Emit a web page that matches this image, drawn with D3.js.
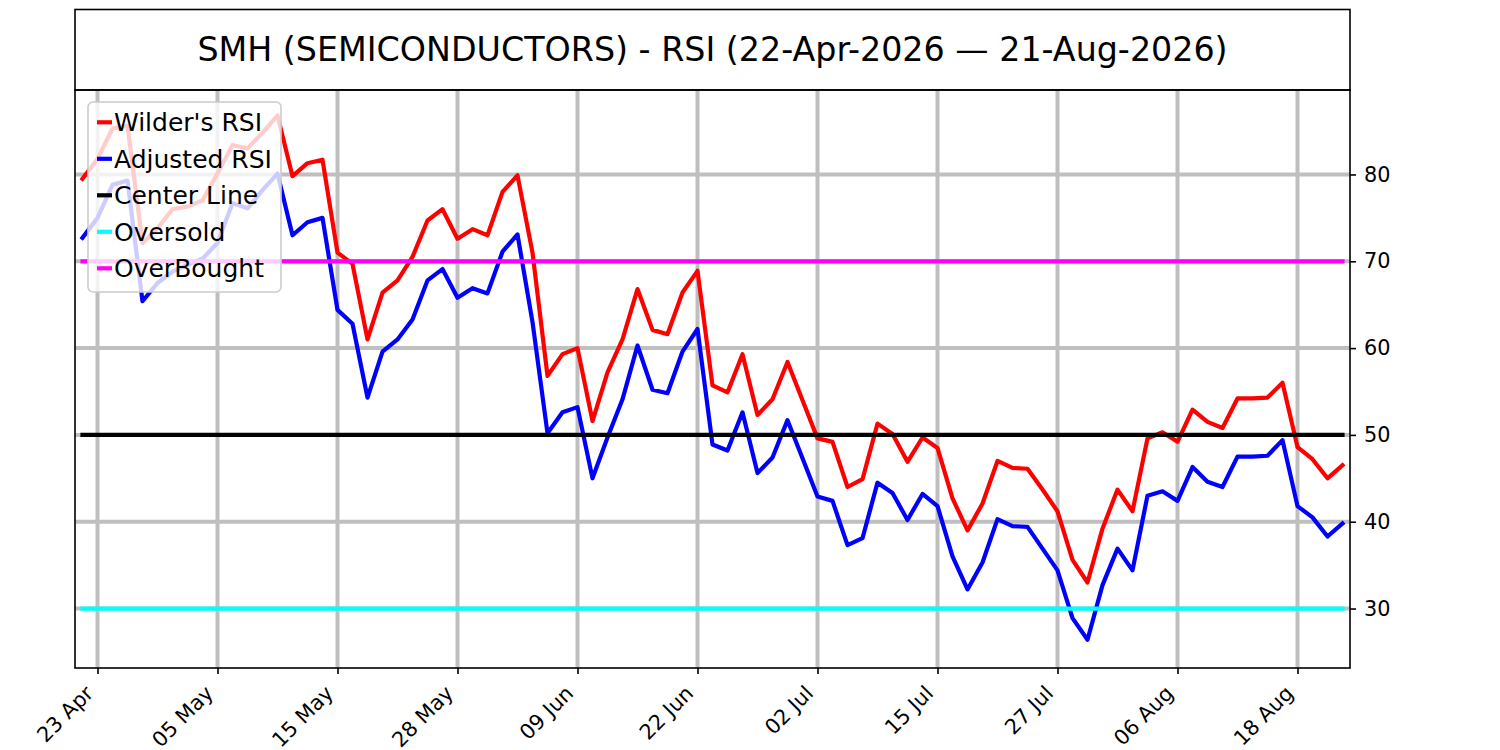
<!DOCTYPE html>
<html>
<head>
<meta charset="utf-8">
<script src="https://cdn.jsdelivr.net/npm/d3@7"></script>
<style>
  body { margin: 0; background: #fff; }
  text { font-family: "DejaVu Sans", sans-serif; }
</style>
</head>
<body>
<div id="chart"></div>
<script>
// trading days shown on the x axis
const dates = [
  "2026-04-22","2026-04-23","2026-04-24","2026-04-27","2026-04-28","2026-04-29","2026-04-30",
  "2026-05-01","2026-05-04","2026-05-05","2026-05-06","2026-05-07","2026-05-08",
  "2026-05-11","2026-05-12","2026-05-13","2026-05-14","2026-05-15",
  "2026-05-18","2026-05-19","2026-05-20","2026-05-21","2026-05-22",
  "2026-05-26","2026-05-27","2026-05-28","2026-05-29",
  "2026-06-01","2026-06-02","2026-06-03","2026-06-04","2026-06-05",
  "2026-06-08","2026-06-09","2026-06-10","2026-06-11","2026-06-12",
  "2026-06-15","2026-06-16","2026-06-17","2026-06-18",
  "2026-06-22","2026-06-23","2026-06-24","2026-06-25","2026-06-26",
  "2026-06-29","2026-06-30","2026-07-01","2026-07-02",
  "2026-07-06","2026-07-07","2026-07-08","2026-07-09","2026-07-10",
  "2026-07-13","2026-07-14","2026-07-15","2026-07-16","2026-07-17",
  "2026-07-20","2026-07-21","2026-07-22","2026-07-23","2026-07-24",
  "2026-07-27","2026-07-28","2026-07-29","2026-07-30","2026-07-31",
  "2026-08-03","2026-08-04","2026-08-05","2026-08-06","2026-08-07",
  "2026-08-10","2026-08-11","2026-08-12","2026-08-13","2026-08-14",
  "2026-08-17","2026-08-18","2026-08-19","2026-08-20","2026-08-21"
];

const wilderRSI = [
  79.5, 81.8, 85.3, 85.6, 72.1, 73.8, 76.0, 76.3, 77.0, 80.1,
  83.4, 83.0, 84.8, 86.8, 79.8, 81.3, 81.7, 71.0, 69.7, 61.0,
  66.4, 67.8, 70.5, 74.7, 76.0, 72.6, 73.7, 73.0, 78.0, 79.9,
  71.0, 56.8, 59.3, 60.0, 51.6, 57.2, 61.0, 66.8, 62.1, 61.6,
  66.4, 68.9, 55.7, 54.9, 59.3, 52.3, 54.1, 58.4, 54.0, 49.6,
  49.2, 44.0, 44.9, 51.3, 50.1, 46.9, 49.7, 48.5, 42.7, 39.0,
  42.1, 47.0, 46.2, 46.1, 43.7, 41.2, 35.6, 33.0, 39.2, 43.7,
  41.2, 49.6, 50.3, 49.2, 52.9, 51.5, 50.8, 54.2, 54.2, 54.3,
  56.0, 48.6, 47.2, 45.0, 46.5
];

const adjustedRSI = [
  72.7, 75.0, 78.8, 79.3, 65.4, 67.5, 68.8, 69.6, 70.3, 72.1,
  76.7, 76.1, 78.2, 80.1, 73.0, 74.5, 75.0, 64.4, 62.8, 54.3,
  59.6, 61.0, 63.3, 67.8, 69.1, 65.8, 66.9, 66.3, 71.1, 73.1,
  63.0, 50.2, 52.6, 53.2, 45.0, 49.7, 54.1, 60.3, 55.2, 54.8,
  59.6, 62.2, 48.9, 48.2, 52.6, 45.6, 47.4, 51.7, 47.3, 42.9,
  42.4, 37.3, 38.1, 44.5, 43.3, 40.2, 43.2, 41.8, 36.0, 32.2,
  35.3, 40.3, 39.5, 39.4, 36.9, 34.4, 28.9, 26.4, 32.7, 36.9,
  34.4, 43.0, 43.5, 42.4, 46.3, 44.6, 44.0, 47.5, 47.5, 47.6,
  49.4, 41.8, 40.5, 38.3, 39.8
];

const centerLevel = 50;
const oversoldLevel = 30;
const overboughtLevel = 70;

const tickDates = ["2026-04-23","2026-05-05","2026-05-15","2026-05-28","2026-06-09",
  "2026-06-22","2026-07-02","2026-07-15","2026-07-27","2026-08-06","2026-08-18"];
const yTicks = [30, 40, 50, 60, 70, 80];

const W = 1500, H = 750;
const plotL = 75, plotR = 1350, plotT = 90, plotB = 668;
const tickFont = 20.8;

const svg = d3.select("#chart").append("svg")
  .attr("width", W).attr("height", H);

const x = d3.scaleLinear().domain([-0.5, dates.length - 0.5]).range([plotL, plotR]);
const y = d3.scaleLinear().domain([23.15, 89.73]).range([plotB, plotT]);

const parse = d3.timeParse("%Y-%m-%d");
const fmt = d3.timeFormat("%d %b");
const tickIdx = tickDates.map(d => dates.indexOf(d));

// grid
const grid = svg.append("g").attr("stroke", "#bfbfbf").attr("stroke-width", 4);
grid.selectAll(".vg").data(tickIdx).enter().append("line")
  .attr("x1", d => x(d)).attr("x2", d => x(d))
  .attr("y1", plotT).attr("y2", plotB);
grid.selectAll(".hg").data(yTicks).enter().append("line")
  .attr("x1", plotL).attr("x2", plotR)
  .attr("y1", d => y(d)).attr("y2", d => y(d));

const series = [
  { name: "Wilder's RSI", color: "#ff0000", values: wilderRSI },
  { name: "Adjusted RSI", color: "#0000ff", values: adjustedRSI },
  { name: "Center Line", color: "#000000", values: dates.map(() => centerLevel) },
  { name: "Oversold", color: "#00ffff", values: dates.map(() => oversoldLevel) },
  { name: "OverBought", color: "#ff00ff", values: dates.map(() => overboughtLevel) }
];

const line = d3.line().x((d, i) => x(i)).y(d => y(d));

svg.append("g").selectAll("path").data(series).enter().append("path")
  .attr("d", d => line(d.values))
  .attr("fill", "none")
  .attr("stroke", d => d.color)
  .attr("stroke-width", 4.2)
  .attr("stroke-linejoin", "round")
  .attr("stroke-linecap", "square");

// bottom axis, labels rotated 45 deg with their top-right corner at the tick
const xAxis = svg.append("g")
  .attr("transform", `translate(0,${plotB})`)
  .call(d3.axisBottom(x).tickValues(tickIdx).tickSize(6).tickFormat(i => fmt(parse(dates[i]))));
xAxis.select(".domain").remove();
xAxis.selectAll(".tick line").attr("stroke", "#000").attr("stroke-width", 1.6);
xAxis.selectAll(".tick text")
  .attr("font-size", tickFont)
  .attr("fill", "#000")
  .attr("text-anchor", "end")
  .attr("x", 0).attr("y", 0).attr("dy", 0)
  .attr("transform", `translate(0,13) rotate(-45) translate(${-0.582 * tickFont},${0.346 * tickFont})`);

// right axis
const yAxis = svg.append("g")
  .attr("transform", `translate(${plotR},0)`)
  .call(d3.axisRight(y).tickValues(yTicks).tickSize(6).tickPadding(8));
yAxis.select(".domain").remove();
yAxis.selectAll(".tick line").attr("stroke", "#000").attr("stroke-width", 1.6);
yAxis.selectAll(".tick text").attr("font-size", tickFont).attr("fill", "#000");

// frame
svg.append("rect")
  .attr("x", plotL).attr("y", plotT)
  .attr("width", plotR - plotL).attr("height", plotB - plotT)
  .attr("fill", "none").attr("stroke", "#000").attr("stroke-width", 1.6);

// title box
svg.append("rect")
  .attr("x", plotL).attr("y", 9.5)
  .attr("width", plotR - plotL).attr("height", plotT - 9.5)
  .attr("fill", "none").attr("stroke", "#000").attr("stroke-width", 1.6);
svg.append("text")
  .attr("x", (plotL + plotR) / 2).attr("y", 61)
  .attr("text-anchor", "middle")
  .attr("font-size", 33.3)
  .text("SMH (SEMICONDUCTORS) - RSI (22-Apr-2026 \u2014 21-Aug-2026)");

// legend
const lg = svg.append("g");
lg.append("rect")
  .attr("x", 88).attr("y", 102).attr("width", 193).attr("height", 190)
  .attr("rx", 5)
  .attr("fill", "#fff").attr("fill-opacity", 0.8)
  .attr("stroke", "#cccccc").attr("stroke-width", 1.6);
const item = lg.selectAll(".item").data(series).enter().append("g")
  .attr("transform", (d, i) => `translate(0,${122.3 + i * 36.5})`);
item.append("line")
  .attr("x1", 97).attr("x2", 112)
  .attr("stroke", d => d.color).attr("stroke-width", 4.2);
item.append("text")
  .attr("x", 114).attr("dy", "0.35em")
  .attr("font-size", 25)
  .text(d => d.name);
</script>
</body>
</html>
